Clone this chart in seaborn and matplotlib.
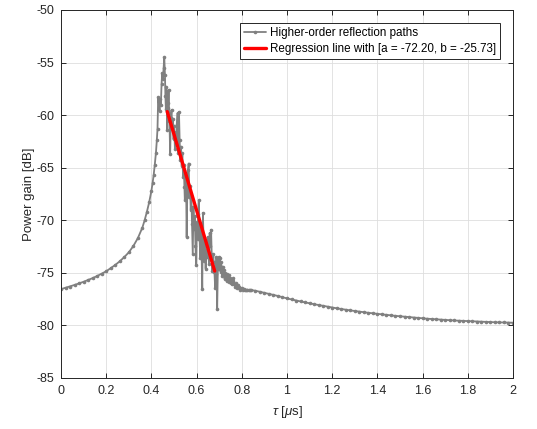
import matplotlib
matplotlib.use("Agg")
import matplotlib.pyplot as plt
import seaborn as sns
import numpy as np
import pandas as pd

# ---------------- data ----------------
tau_rise = [0.00, 0.02, 0.04, 0.06, 0.08, 0.10, 0.12, 0.14, 0.16, 0.18,
            0.20, 0.22, 0.24, 0.26, 0.28, 0.30, 0.32, 0.34, 0.36, 0.37,
            0.38, 0.39, 0.40, 0.405, 0.41, 0.415, 0.42, 0.424]
gain_rise = [-76.55, -76.42, -76.30, -76.15, -76.00, -75.85, -75.68, -75.50, -75.30, -75.08,
             -74.85, -74.55, -74.25, -73.90, -73.50, -73.05, -72.45, -71.70, -70.70, -70.00,
             -69.20, -68.30, -67.20, -66.50, -65.70, -64.70, -63.60, -62.40]

tau_noisy = [0.427, 0.430, 0.433, 0.436, 0.439, 0.442, 0.445, 0.448, 0.451, 0.454,
             0.457, 0.460, 0.462, 0.464, 0.466, 0.468, 0.470, 0.472, 0.474, 0.476,
             0.478, 0.480, 0.483, 0.486, 0.489, 0.492, 0.495, 0.498, 0.501, 0.504,
             0.507, 0.510, 0.513, 0.516, 0.519, 0.522, 0.525, 0.528, 0.531, 0.534,
             0.537, 0.540, 0.543, 0.546, 0.548, 0.551, 0.554, 0.556, 0.559, 0.562,
             0.565, 0.568, 0.571, 0.574, 0.577, 0.580, 0.583, 0.586, 0.589, 0.592,
             0.595, 0.598, 0.601, 0.604, 0.607, 0.610, 0.613, 0.616, 0.619, 0.622,
             0.625, 0.628, 0.631, 0.634, 0.637, 0.640, 0.643, 0.646, 0.649, 0.652,
             0.655, 0.658, 0.661, 0.664, 0.667, 0.670, 0.673, 0.676, 0.679, 0.682,
             0.685, 0.688, 0.691, 0.694, 0.697, 0.700, 0.703, 0.706, 0.709, 0.712,
             0.715, 0.718, 0.721, 0.724, 0.727, 0.730, 0.733, 0.736, 0.739, 0.742,
             0.745, 0.748, 0.751, 0.754, 0.757, 0.760, 0.763, 0.766, 0.770, 0.774,
             0.778, 0.782, 0.786, 0.790, 0.794, 0.798, 0.802, 0.806, 0.810, 0.815,
             0.820, 0.825, 0.830, 0.835, 0.840]
gain_noisy = [-61.3, -58.3, -58.9, -59.6, -58.5, -59.0, -57.0, -56.0, -56.6, -55.5,
              -54.5, -56.2, -58.2, -59.4, -57.3, -59.6, -61.4, -58.8, -59.3, -57.6,
              -59.8, -60.6, -63.7, -60.3, -59.5, -61.2, -60.4, -62.3, -61.0, -63.2,
              -61.6, -62.6, -60.8, -59.8, -63.6, -59.7, -62.4, -64.3, -63.0, -64.8,
              -63.6, -65.9, -64.7, -66.8, -68.1, -65.6, -67.3, -71.6, -66.9, -65.2,
              -64.6, -67.8, -66.7, -69.0, -67.9, -70.4, -73.2, -68.7, -70.8, -69.6,
              -72.4, -74.3, -70.2, -71.8, -69.4, -68.1, -71.5, -73.6, -70.6, -72.9,
              -76.5, -69.3, -72.2, -73.9, -72.0, -74.6, -72.8, -73.5, -71.6, -73.0,
              -74.2, -71.2, -72.4, -70.9, -73.4, -74.8, -73.2, -74.0, -74.9, -76.4,
              -75.1, -73.5, -78.4, -74.6, -73.5, -74.5, -73.6, -74.9, -74.0, -75.3,
              -74.4, -75.2, -74.7, -75.6, -75.0, -75.3, -75.8, -75.1, -75.6, -75.2,
              -75.9, -75.5, -76.0, -75.6, -76.1, -75.8, -75.5, -76.1, -76.3, -76.0,
              -76.4, -76.2, -76.3, -76.6, -76.4, -76.5, -76.45, -76.6, -76.55, -76.6,
              -76.62, -76.6, -76.63, -76.62, -76.63]

tau_tail = [0.86, 0.88, 0.90, 0.92, 0.94, 0.96, 0.98, 1.00, 1.02, 1.04,
            1.06, 1.08, 1.10, 1.12, 1.14, 1.16, 1.18, 1.20, 1.22, 1.24,
            1.26, 1.28, 1.30, 1.32, 1.34, 1.36, 1.38, 1.40, 1.42, 1.44,
            1.46, 1.48, 1.50, 1.52, 1.54, 1.56, 1.58, 1.60, 1.62, 1.64,
            1.66, 1.68, 1.70, 1.72, 1.74, 1.76, 1.78, 1.80, 1.82, 1.84,
            1.86, 1.88, 1.90, 1.92, 1.94, 1.96, 1.98, 2.00]
gain_tail = [-76.70, -76.80, -76.90, -77.00, -77.10, -77.20, -77.32, -77.43, -77.53, -77.63,
             -77.72, -77.81, -77.90, -77.98, -78.06, -78.14, -78.22, -78.30, -78.37, -78.44,
             -78.50, -78.57, -78.63, -78.69, -78.74, -78.80, -78.85, -78.90, -78.95, -79.00,
             -79.04, -79.09, -79.13, -79.17, -79.21, -79.25, -79.29, -79.32, -79.36, -79.39,
             -79.42, -79.45, -79.48, -79.50, -79.53, -79.55, -79.57, -79.60, -79.62, -79.63,
             -79.65, -79.67, -79.68, -79.70, -79.71, -79.72, -79.73, -79.74]

reg_a = -72.20
reg_b = -25.73
reg_tau = [0.47, 0.68]

xticks = [0, 0.2, 0.4, 0.6, 0.8, 1.0, 1.2, 1.4, 1.6, 1.8, 2.0]
xticklabels = ["0", "0.2", "0.4", "0.6", "0.8", "1", "1.2", "1.4", "1.6", "1.8", "2"]
yticks = [-85, -80, -75, -70, -65, -60, -55, -50]

# ---------------- build frames ----------------
paths = pd.DataFrame({
    "tau": tau_rise + tau_noisy + tau_tail,
    "gain": gain_rise + gain_noisy + gain_tail,
})
reg = pd.DataFrame({"tau": reg_tau})
reg["gain"] = reg_a * reg["tau"] + reg_b

# ---------------- style ----------------
sns.set_style("ticks")
plt.rcParams["font.family"] = ["Liberation Sans", "DejaVu Sans"]
plt.rcParams["mathtext.fontset"] = "custom"
plt.rcParams["mathtext.rm"] = "Liberation Sans"
plt.rcParams["mathtext.it"] = "Liberation Sans:italic"

fig = plt.figure(figsize=(5.37, 4.29), dpi=100)
ax = fig.add_axes([61 / 537, (429 - 378) / 429, 452 / 537, 368 / 429])

dark = "#262626"

sns.lineplot(data=paths, x="tau", y="gain", ax=ax, sort=False, estimator=None,
             color="#808080", linewidth=1.3, marker="o", markersize=2.6,
             markeredgewidth=0, label="Higher-order reflection paths")
sns.lineplot(data=reg, x="tau", y="gain", ax=ax, sort=False, estimator=None,
             color="#ff0000", linewidth=2.4,
             label=f"Regression line with [a = {reg_a:.2f}, b = {reg_b:.2f}]")

ax.set_xlim(0, 2)
ax.set_ylim(-85, -50)
ax.set_xticks(xticks)
ax.set_xticklabels(xticklabels)
ax.set_yticks(yticks)
ax.set_yticklabels([str(v) for v in yticks])

ax.grid(True, color="#dedede", linewidth=0.6)
ax.set_axisbelow(True)

for s in ax.spines.values():
    s.set_visible(True)
    s.set_color(dark)
    s.set_linewidth(0.7)

ax.tick_params(direction="in", length=3.5, width=0.7, colors=dark,
               labelsize=9, top=True, right=True, pad=5)
for lab in ax.get_xticklabels() + ax.get_yticklabels():
    lab.set_color(dark)

ax.set_xlabel(r"$\tau$ [$\mu$s]", fontsize=9.5, color=dark, labelpad=5)
ax.set_ylabel("Power gain [dB]", fontsize=9.5, color=dark, labelpad=1)

leg = ax.legend(loc="upper right", bbox_to_anchor=(0.972, 0.965), borderaxespad=0,
                fontsize=8.4, frameon=True, fancybox=False, framealpha=1,
                edgecolor=dark, handlelength=1.9, handletextpad=0.35,
                borderpad=0.35, labelspacing=0.35)
leg.get_frame().set_linewidth(0.7)
for t in leg.get_texts():
    t.set_color("black")

fig.savefig("out.png", dpi=100)
